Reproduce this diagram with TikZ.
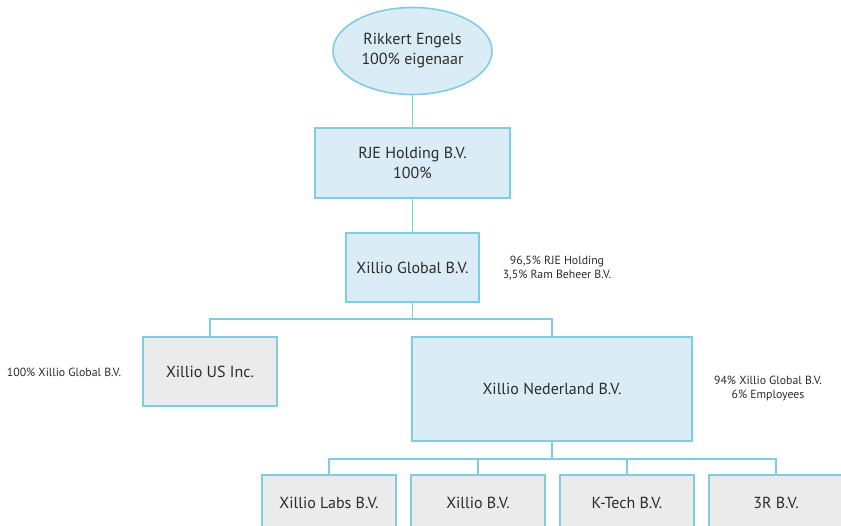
\documentclass[tikz,border=0pt]{standalone}
\usepackage{fontspec}
\setmainfont{PT Sans}
\usetikzlibrary{shapes.geometric}
\definecolor{bfill}{HTML}{DAEDF6}
\definecolor{bline}{HTML}{80CDE1}
\definecolor{gfill}{HTML}{EBEBEB}
\definecolor{txt}{HTML}{2B2B2B}
\begin{document}
\begin{tikzpicture}[x=1pt,y=-1pt,
  every node/.style={text=txt, inner sep=0pt, align=center},
  bluebox/.style={draw=bline, line width=1.6pt, fill=bfill, font=\fontsize{16}{20}\selectfont},
  greybox/.style={draw=bline, line width=1.6pt, fill=gfill, font=\fontsize{16}{20}\selectfont},
  note/.style={font=\fontsize{11.8}{14}\selectfont},
  link/.style={draw=bline, line width=1.4pt}]
\useasboundingbox (0,0) rectangle (841,526);
\clip (0,0) rectangle (841,526);
\node[bluebox, ellipse, minimum width=159pt, minimum height=87pt] (owner) at (412.5,51) {Rikkert Engels\\100\% eigenaar};
\node[bluebox, minimum width=195pt, minimum height=70pt] (rje) at (412.5,163) {RJE Holding B.V.\\100\%};
\node[bluebox, minimum width=133pt, minimum height=69pt] (global) at (412.5,267.5) {Xillio Global B.V.};
\node[greybox, minimum width=134pt, minimum height=69pt] (us) at (210,371.5) {Xillio US Inc.};
\node[bluebox, minimum width=280pt, minimum height=104pt] (ned) at (552,389) {Xillio Nederland B.V.};
\node[greybox, minimum width=134pt, minimum height=56pt] (labs) at (329,503) {Xillio Labs B.V.};
\node[greybox, minimum width=134pt, minimum height=56pt] (xb) at (478,503) {Xillio B.V.};
\node[greybox, minimum width=134pt, minimum height=56pt] (kt) at (627,503) {K-Tech B.V.};
\node[greybox, minimum width=134pt, minimum height=56pt] (r3) at (776,503) {3R B.V.};
\node[note] (n1) at (557,268) {96,5\% RJE Holding\\3,5\% Ram Beheer B.V.};
\node[note] (n2) at (64,372) {100\% Xillio Global B.V.};
\node[note] (n3) at (768,389) {94\% Xillio Global B.V.\\6\% Employees};
\coordinate (j1) at (412.5,319);
\coordinate (j2) at (552,459);
\draw[link] (owner.south) -- (rje.north);
\draw[link] (rje.south) -- (global.north);
\draw[link] (global.south) -- (j1);
\draw[link] (us.north) |- (j1) -| (ned.north);
\draw[link] (ned.south) -- (j2);
\draw[link] (labs.north) |- (j2) -| (r3.north);
\draw[link] (xb.north) |- (j2);
\draw[link] (kt.north) |- (j2);
\end{tikzpicture}
\end{document}
